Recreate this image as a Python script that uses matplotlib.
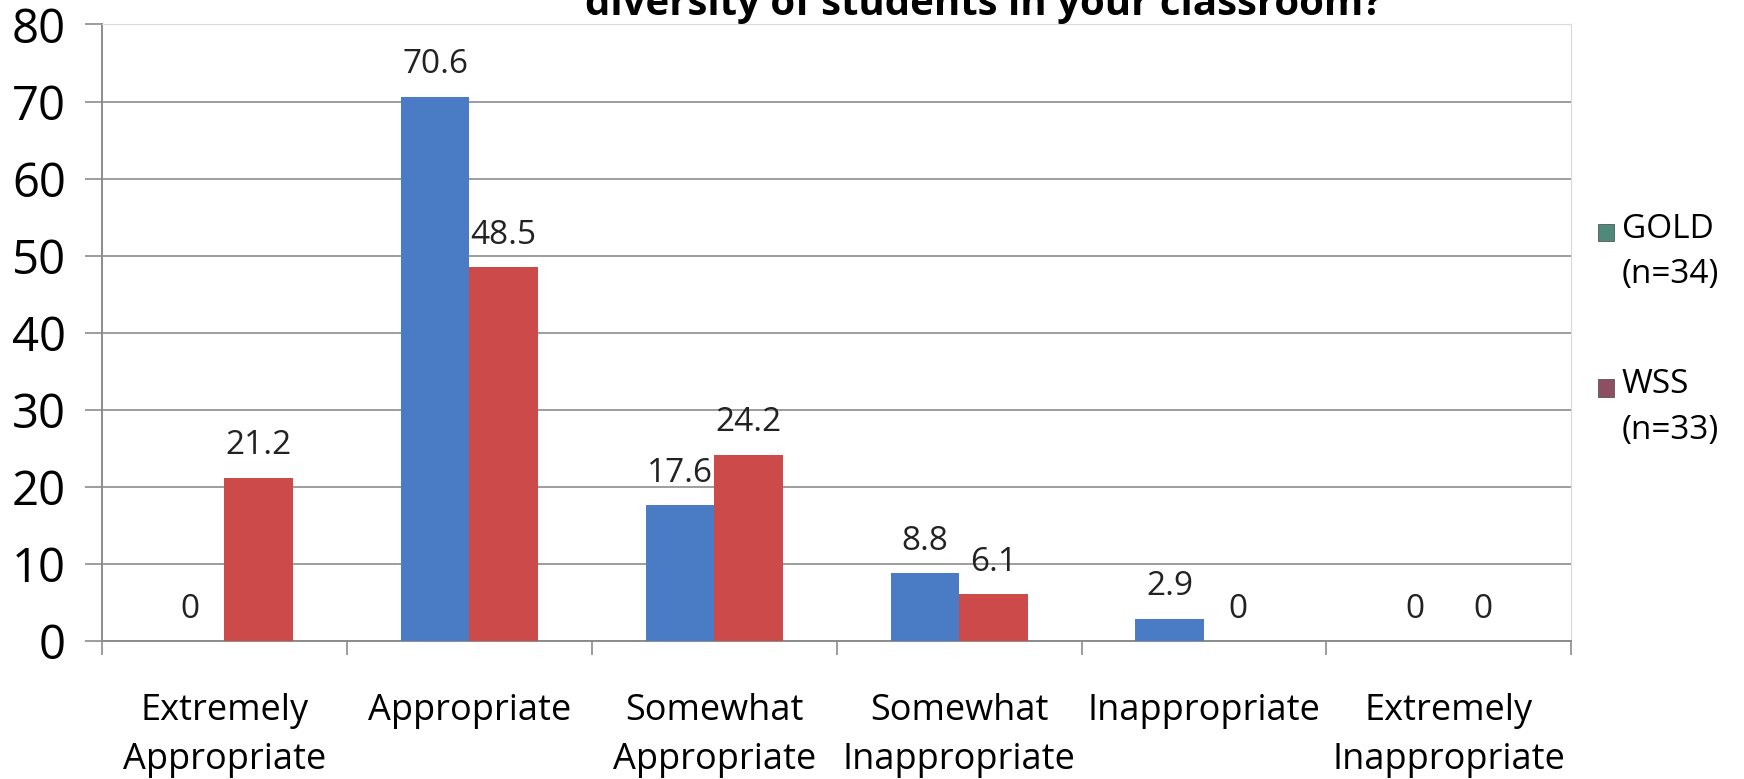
import numpy as np
import matplotlib.pyplot as plt
from matplotlib.patches import Rectangle

plt.rcParams['font.family'] = ['Open Sans', 'DejaVu Sans']

categories = ['Extremely\nAppropriate', 'Appropriate', 'Somewhat\nAppropriate',
              'Somewhat\nInappropriate', 'Inappropriate', 'Extremely\nInappropriate']
gold = [0, 70.6, 17.6, 8.8, 2.9, 0]
wss = [21.2, 48.5, 24.2, 6.1, 0, 0]
series_names = ['GOLD\n(n=34)', 'WSS\n(n=33)']
title = 'diversity of students in your classroom?'

bar_colors = ['#4A7CC6', '#CC4A4A']
legend_colors = ['#4E8A7A', '#8E4F63']

fig = plt.figure(figsize=(17.44, 7.79), dpi=100)
ax = fig.add_axes([0.0585, 0.177, 0.8425, 0.7916])

x = np.arange(len(categories))
w = 0.28
b1 = ax.bar(x - w / 2, gold, w, color=bar_colors[0], zorder=3)
b2 = ax.bar(x + w / 2, wss, w, color=bar_colors[1], zorder=3)

for bars, vals in ((b1, gold), (b2, wss)):
    for rect, v in zip(bars, vals):
        ax.annotate(f'{v:g}', (rect.get_x() + rect.get_width() / 2, v),
                    xytext=(0, 23), textcoords='offset points',
                    ha='center', va='center', fontsize=24, color='#222222')

ax.set_xlim(-0.5, len(categories) - 0.5)
ax.set_ylim(0, 80)
ax.set_yticks(range(0, 81, 10))
ax.yaxis.grid(True, color='#8C8C8C', linewidth=1.2, zorder=0)
ax.tick_params(axis='y', labelsize=34, length=12, width=1.2, color='#8C8C8C', pad=14)

# boundary ticks on the category axis, labels centred between them
ax.set_xticks(np.arange(-0.5, len(categories), 1.0))
ax.set_xticklabels([])
ax.tick_params(axis='x', which='major', length=10, width=1.2, color='#8C8C8C')
ax.set_xticks(x, minor=True)
ax.set_xticklabels(categories, minor=True, fontsize=26, linespacing=1.5)
ax.tick_params(axis='x', which='minor', length=0, pad=37)

for s in ('left', 'bottom'):
    ax.spines[s].set_color('#8C8C8C')
    ax.spines[s].set_linewidth(1.4)
for s in ('top', 'right'):
    ax.spines[s].set_color('#D9D9D9')

# legend: square marker next to the first line of each label
for i, (name, c) in enumerate(zip(series_names, legend_colors)):
    y0 = 0.703 - i * 0.20
    fig.patches.append(Rectangle((0.916, y0 - 0.012), 0.0095, 0.022,
                                 transform=fig.transFigure, facecolor=c,
                                 edgecolor='#555555', linewidth=0.6))
    fig.text(0.930, y0 + 0.024, name, fontsize=24, va='top', ha='left',
             linespacing=1.5)

fig.text(0.564, 0.981, title, fontsize=29, fontweight='bold',
         ha='center', va='baseline')

fig.savefig('out.png', dpi=100)
